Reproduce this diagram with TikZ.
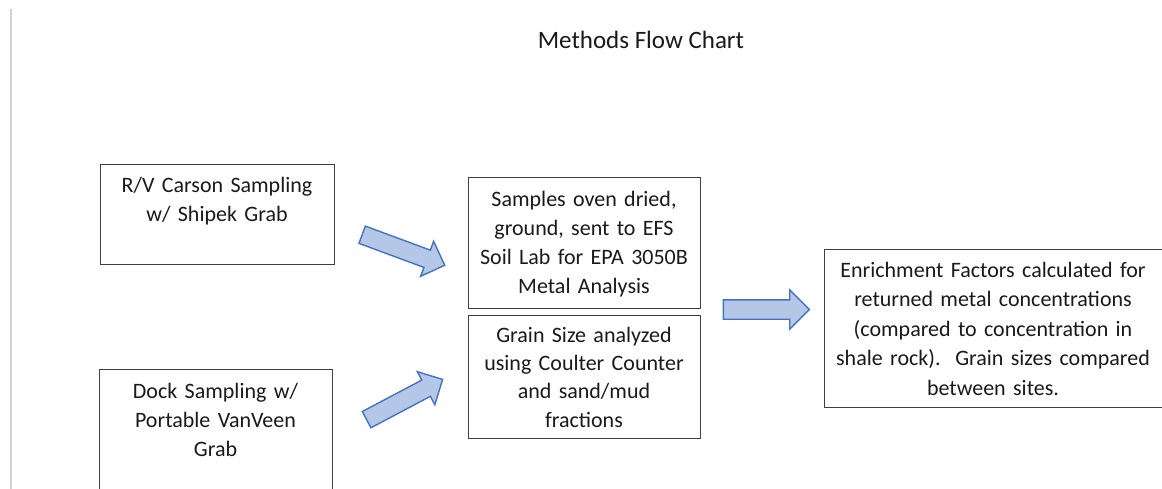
\documentclass[tikz,border=0pt]{standalone}
\usepackage{fontspec}
\setmainfont{Carlito}
\usetikzlibrary{shapes.arrows}
\definecolor{arrowfill}{HTML}{B4C7E7}
\definecolor{arrowline}{HTML}{4472C4}
\definecolor{boxline}{HTML}{404040}
\definecolor{txtcol}{HTML}{1A1A1A}
\tikzset{
  box/.style={draw=boxline, line width=1.3pt, rectangle, inner sep=0pt, anchor=north west},
  boxtext/.style={inner sep=0pt, align=center, anchor=base, text=txtcol,
    font=\fontsize{22}{29}\selectfont\frenchspacing},
  blockarrow/.style={shape=single arrow, draw=arrowline, fill=arrowfill, line width=1.4pt,
    inner xsep=0pt, inner ysep=8.5pt, single arrow head extend=9.5pt, single arrow tip angle=90,
    anchor=tail},
}
\begin{document}
\begin{tikzpicture}[x=1pt,y=-1pt]
\clip (0,0) rectangle (1162,489);
\fill[white] (0,0) rectangle (1162,489);
% left margin line
\draw[black!18, line width=2pt] (11,9) -- (11,495);
% title
\node[boxtext, font=\fontsize{25}{29}\selectfont] (title) at (641,49) {Methods Flow Chart};
% boxes
\node[box, minimum width=234pt, minimum height=100pt] (rv) at (100,164) {};
\node[boxtext, text width=230pt] (rvt) at (217,193) {R/V Carson Sampling\\w/ Shipek Grab};
\node[box, minimum width=233pt, minimum height=140pt] (dock) at (99,369) {};
\node[boxtext, text width=229pt] (dockt) at (215.5,398) {Dock Sampling w/\\Portable VanVeen\\Grab};
\node[box, minimum width=232pt, minimum height=131pt] (oven) at (468,177) {};
\node[boxtext, text width=228pt] (ovent) at (584,207) {Samples oven dried,\\ground, sent to EFS\\Soil Lab for EPA 3050B\\Metal Analysis};
\node[box, minimum width=232pt, minimum height=123pt] (grain) at (468,315) {};
\node[boxtext, text width=228pt, font=\fontsize{22}{28.4}\selectfont] (graint) at (584,342) {Grain Size analyzed\\using Coulter Counter\\and sand/mud\\fractions};
\node[box, minimum width=338pt, minimum height=158pt] (ef) at (824,249) {};
\node[boxtext, text width=334pt, font=\fontsize{22}{29.5}\selectfont\frenchspacing] (eft) at (993,277) {Enrichment Factors calculated for\\returned metal concentrations\\(compared to concentration in\\shale rock).~ Grain sizes compared\\between sites.};
% block arrows
\node[blockarrow, minimum height=88pt, rotate=-20.3] (a1) at (361.5,234.5) {};
\node[blockarrow, minimum height=86pt, rotate=27.9] (a2) at (366,420) {};
\node[blockarrow, minimum height=86pt, inner ysep=9pt, single arrow head extend=10pt] (a3) at (722.7,309.5) {};
\end{tikzpicture}
\end{document}
